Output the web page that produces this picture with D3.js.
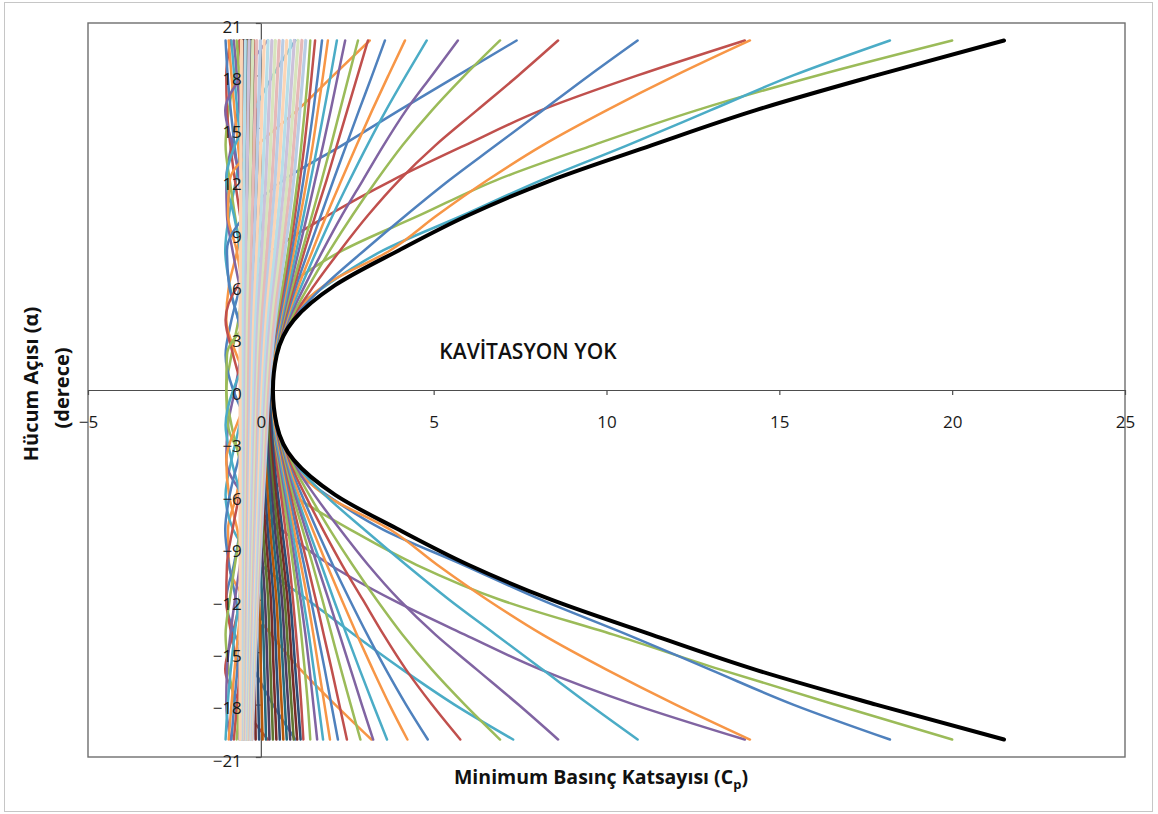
<!DOCTYPE html>
<html><head><meta charset="utf-8">
<script src="https://cdn.jsdelivr.net/npm/d3@7"></script>
<style>body{margin:0;background:#fff}svg{display:block}</style>
</head><body>
<svg id="chart" width="1158" height="814"></svg>
<script>
// ---------- data ----------
const alpha = [-20,-18,-16,-14,-12,-10,-8,-6,-4,-2,0,2,4,6,8,10,12,14,16,18,20];
const alphaCoarse = [-20,-16,-12,-8,-4,0,4,8,12,16,20];
const xTicks = [-5,0,5,10,15,20,25];
const yTicks = [-21,-18,-15,-12,-9,-6,-3,0,3,6,9,12,15,18,21];

const envelope = [21.5,17.8,14.3,11.3,8.4,6.0,4.0,2.15,0.95,0.46,0.35,0.46,0.95,2.15,4.0,6.0,8.4,11.3,14.3,17.8,21.5];

// upper family (suction grows with +alpha)
const uPurple02 = [-0.38,-0.39,-0.4,-0.4,-0.41,-0.42,-0.43,-0.43,-0.44,-0.44,-0.45,-0.45,-0.45,-0.46,-0.48,-0.52,-0.6,-0.82,-1.03,-0.55,0.2];
const uTeal10   = [-0.38,-0.39,-0.39,-0.4,-0.41,-0.42,-0.42,-0.43,-0.44,-0.45,-0.45,-0.46,-0.48,-0.52,-0.6,-0.78,-1.0,-0.75,-0.2,0.35,1.0];
const uOrange31 = [-0.38,-0.38,-0.39,-0.4,-0.4,-0.41,-0.42,-0.43,-0.44,-0.45,-0.45,-0.46,-0.48,-0.55,-0.7,-0.95,-0.9,-0.1,1.05,2.1,3.15];
const uBlue727  = [-0.38,-0.38,-0.39,-0.39,-0.4,-0.41,-0.42,-0.43,-0.44,-0.45,-0.46,-0.5,-0.65,-0.92,-0.98,-0.45,0.65,2.35,4.0,5.7,7.4];
const uRed138   = [-0.37,-0.38,-0.38,-0.39,-0.4,-0.41,-0.42,-0.43,-0.45,-0.48,-0.55,-0.8,-1.02,-0.65,0.35,1.95,3.8,5.9,8.1,10.9,14.0];
const uGreen20  = [-0.37,-0.38,-0.38,-0.39,-0.4,-0.42,-0.45,-0.5,-0.62,-0.85,-1.0,-0.98,-0.3,0.8,2.38,4.6,6.8,9.6,12.6,16.1,20.0];
const uTeal182  = [-0.38,-0.39,-0.4,-0.41,-0.42,-0.44,-0.48,-0.6,-0.85,-1.02,-0.8,-0.3,0.6,1.9,3.55,5.85,8.1,10.6,13.0,15.4,18.2];
const uOrange1415 = [-0.4,-0.41,-0.42,-0.43,-0.46,-0.53,-0.68,-0.92,-1.0,-0.7,-0.25,0.25,0.8,1.85,3.75,5.1,6.55,8.15,10.0,12.0,14.15];
const uBlue109  = [-0.44,-0.46,-0.5,-0.58,-0.72,-0.92,-1.03,-0.9,-0.65,-0.35,-0.05,0.35,0.9,1.85,3.0,4.2,5.45,6.8,8.15,9.5,10.9];
const uRed86    = [-0.48,-0.55,-0.66,-0.85,-1.0,-0.98,-0.82,-0.62,-0.4,-0.15,0.1,0.42,0.88,1.55,2.3,3.1,4.0,5.05,6.25,7.45,8.6];
const uGreen692 = [-0.6,-0.75,-0.93,-1.02,-0.9,-0.75,-0.58,-0.4,-0.2,0.0,0.2,0.45,0.85,1.4,2.0,2.65,3.35,4.1,4.95,5.9,6.92];
const uPurple57 = [-0.88,-1.0,-0.98,-0.88,-0.75,-0.6,-0.45,-0.28,-0.1,0.08,0.25,0.45,0.8,1.28,1.8,2.35,2.95,3.55,4.2,4.95,5.7];
const uTeal48   = [-1.02,-0.96,-0.87,-0.76,-0.63,-0.5,-0.35,-0.2,-0.04,0.12,0.28,0.45,0.76,1.18,1.62,2.08,2.57,3.08,3.62,4.2,4.8];
const uOrange417= [-0.93,-0.85,-0.76,-0.66,-0.55,-0.43,-0.3,-0.15,0.0,0.15,0.3,0.45,0.74,1.1,1.5,1.9,2.33,2.77,3.22,3.69,4.17];
const uBlue359  = [-0.85,-0.77,-0.68,-0.58,-0.47,-0.35,-0.23,-0.1,0.03,0.17,0.3,0.44,0.71,1.03,1.38,1.74,2.1,2.47,2.84,3.22,3.59];
const uRed31    = [-0.78,-0.69,-0.6,-0.5,-0.4,-0.29,-0.18,-0.06,0.06,0.18,0.3,0.43,0.68,0.97,1.27,1.58,1.9,2.2,2.5,2.8,3.1];
const uGreen281 = [-0.7,-0.62,-0.53,-0.44,-0.34,-0.24,-0.14,-0.04,0.07,0.18,0.29,0.42,0.65,0.92,1.2,1.48,1.76,2.03,2.29,2.55,2.81];
const uPurple244= [-0.62,-0.54,-0.46,-0.38,-0.29,-0.2,-0.11,-0.02,0.08,0.18,0.28,0.4,0.62,0.86,1.1,1.34,1.57,1.8,2.02,2.23,2.44];
const uTeal22   = [-0.54,-0.47,-0.4,-0.32,-0.24,-0.16,-0.08,0.0,0.09,0.18,0.27,0.38,0.59,0.81,1.03,1.24,1.44,1.64,1.83,2.02,2.2];
const uOrange194= [-0.48,-0.41,-0.34,-0.27,-0.2,-0.13,-0.06,0.01,0.09,0.17,0.25,0.36,0.56,0.76,0.96,1.15,1.33,1.5,1.65,1.8,1.94];
const uBlue177  = [-0.41,-0.35,-0.29,-0.23,-0.17,-0.11,-0.05,0.01,0.08,0.15,0.22,0.33,0.53,0.72,0.9,1.07,1.23,1.38,1.52,1.65,1.77];
const uRed157   = [-0.34,-0.29,-0.24,-0.19,-0.14,-0.09,-0.04,0.02,0.08,0.14,0.2,0.3,0.49,0.67,0.84,0.99,1.13,1.26,1.37,1.47,1.57];
const uGreen143 = [-0.26,-0.22,-0.18,-0.14,-0.1,-0.06,-0.02,0.03,0.08,0.13,0.18,0.28,0.46,0.63,0.79,0.93,1.06,1.17,1.27,1.36,1.43];

// lower family (suction grows with -alpha)
const lRed017   = [0.2,-0.55,-1.03,-0.82,-0.6,-0.52,-0.48,-0.46,-0.45,-0.45,-0.45,-0.44,-0.44,-0.43,-0.43,-0.42,-0.41,-0.4,-0.4,-0.39,-0.38];
const lBlue093  = [1.0,0.35,-0.2,-0.75,-1.0,-0.78,-0.6,-0.52,-0.48,-0.46,-0.45,-0.45,-0.44,-0.43,-0.42,-0.42,-0.41,-0.4,-0.39,-0.39,-0.38];
const lOrange31 = [3.2,2.15,1.15,0.3,-0.45,-0.92,-0.95,-0.7,-0.55,-0.48,-0.46,-0.45,-0.44,-0.43,-0.42,-0.41,-0.4,-0.4,-0.39,-0.38,-0.38];
const lTeal727  = [7.3,5.6,4.1,2.7,1.35,0.0,-0.8,-1.02,-0.85,-0.62,-0.5,-0.46,-0.45,-0.44,-0.43,-0.42,-0.41,-0.4,-0.39,-0.38,-0.38];
const lPurple138= [14.0,10.8,8.1,5.9,3.8,2.0,0.6,-0.5,-1.0,-0.95,-0.75,-0.58,-0.5,-0.46,-0.44,-0.43,-0.42,-0.41,-0.4,-0.39,-0.38];
const lGreen20  = [20.0,16.6,13.3,10.2,6.92,4.5,2.6,0.9,-0.4,-0.95,-1.0,-0.85,-0.65,-0.52,-0.47,-0.45,-0.43,-0.42,-0.4,-0.39,-0.38];
const lBlue182  = [18.2,15.4,13.0,10.6,8.1,5.85,3.55,1.9,0.6,-0.3,-0.8,-1.02,-0.85,-0.6,-0.48,-0.44,-0.42,-0.41,-0.4,-0.39,-0.38];
const lOrange1415 = [14.15,12.0,10.0,8.15,6.55,5.1,3.75,1.85,0.8,0.25,-0.25,-0.7,-1.0,-0.92,-0.68,-0.53,-0.46,-0.43,-0.42,-0.41,-0.4];
const lTeal109  = [10.9,9.5,8.15,6.8,5.45,4.2,3.0,1.85,0.9,0.35,-0.05,-0.35,-0.65,-0.9,-1.03,-0.92,-0.72,-0.58,-0.5,-0.46,-0.44];
const lPurple86 = [8.6,7.45,6.25,5.05,4.0,3.1,2.3,1.55,0.88,0.42,0.1,-0.15,-0.4,-0.62,-0.82,-0.98,-1.0,-0.85,-0.66,-0.55,-0.48];
const lGreen692 = [6.92,5.9,4.95,4.1,3.35,2.65,2.0,1.4,0.85,0.45,0.2,0.0,-0.2,-0.4,-0.58,-0.75,-0.9,-1.02,-0.93,-0.75,-0.6];
const lRed577   = [5.77,4.95,4.2,3.55,2.95,2.35,1.8,1.28,0.8,0.45,0.25,0.08,-0.1,-0.28,-0.45,-0.6,-0.75,-0.88,-0.98,-1.0,-0.88];
const lBlue48   = [4.83,4.2,3.62,3.08,2.57,2.08,1.62,1.18,0.76,0.45,0.28,0.12,-0.04,-0.2,-0.35,-0.5,-0.63,-0.76,-0.87,-0.96,-1.02];
const lOrange424= [4.24,3.72,3.24,2.78,2.34,1.91,1.5,1.1,0.74,0.45,0.3,0.15,0.0,-0.15,-0.3,-0.43,-0.55,-0.66,-0.76,-0.85,-0.93];
const lTeal365  = [3.65,3.25,2.86,2.48,2.11,1.75,1.38,1.03,0.71,0.44,0.3,0.17,0.03,-0.1,-0.23,-0.35,-0.47,-0.58,-0.68,-0.77,-0.85];
const lPurple32 = [3.25,2.92,2.6,2.28,1.96,1.63,1.3,0.98,0.68,0.43,0.3,0.18,0.06,-0.06,-0.18,-0.29,-0.4,-0.5,-0.6,-0.69,-0.78];
const lGreen288 = [2.88,2.6,2.32,2.05,1.78,1.5,1.21,0.92,0.65,0.42,0.29,0.18,0.07,-0.04,-0.14,-0.24,-0.34,-0.44,-0.53,-0.62,-0.7];
const lRed249   = [2.49,2.27,2.05,1.82,1.59,1.35,1.1,0.86,0.62,0.4,0.28,0.18,0.08,-0.02,-0.11,-0.2,-0.29,-0.38,-0.46,-0.54,-0.62];
const lBlue223  = [2.23,2.04,1.85,1.65,1.45,1.25,1.03,0.81,0.59,0.38,0.27,0.18,0.09,0.0,-0.08,-0.16,-0.24,-0.32,-0.4,-0.47,-0.54];
const lOrange20 = [2.0,1.84,1.68,1.52,1.35,1.16,0.96,0.76,0.56,0.36,0.25,0.17,0.09,0.01,-0.06,-0.13,-0.2,-0.27,-0.34,-0.41,-0.48];
const lTeal180  = [1.8,1.67,1.53,1.39,1.23,1.07,0.9,0.72,0.53,0.33,0.22,0.15,0.08,0.01,-0.05,-0.11,-0.17,-0.23,-0.29,-0.35,-0.41];
const lPurple163= [1.63,1.52,1.41,1.29,1.15,1.0,0.84,0.67,0.49,0.3,0.2,0.14,0.08,0.02,-0.04,-0.09,-0.14,-0.19,-0.24,-0.29,-0.34];
const lGreen143 = [1.43,1.36,1.27,1.17,1.06,0.93,0.79,0.63,0.46,0.28,0.18,0.13,0.08,0.03,-0.02,-0.06,-0.1,-0.14,-0.18,-0.22,-0.26];
const lRed123   = [1.23,1.17,1.1,1.02,0.93,0.83,0.71,0.58,0.43,0.26,0.17,0.12,0.07,0.03,-0.01,-0.05,-0.08,-0.11,-0.14,-0.17,-0.2];

// dense dark band (lower aft points), on alphaCoarse
const darkBand = [
 [1.15,1.0,0.85,0.62,0.38,0.24,0.13,0.02,-0.08,-0.17,-0.25],
 [1.05,0.91,0.77,0.55,0.33,0.19,0.09,-0.02,-0.11,-0.2,-0.27],
 [0.95,0.82,0.69,0.48,0.28,0.14,0.04,-0.05,-0.14,-0.22,-0.29],
 [0.85,0.73,0.61,0.41,0.23,0.09,0.0,-0.09,-0.17,-0.25,-0.31],
 [0.75,0.64,0.53,0.34,0.18,0.04,-0.04,-0.13,-0.2,-0.27,-0.33],
 [0.65,0.55,0.45,0.27,0.13,-0.01,-0.08,-0.16,-0.23,-0.3,-0.35],
 [0.55,0.46,0.37,0.2,0.07,-0.06,-0.13,-0.2,-0.26,-0.32,-0.37],
 [0.45,0.37,0.29,0.13,0.01,-0.11,-0.17,-0.24,-0.29,-0.35,-0.39],
 [0.35,0.28,0.21,0.06,-0.05,-0.16,-0.21,-0.27,-0.32,-0.37,-0.41],
 [0.25,0.19,0.12,-0.01,-0.11,-0.2,-0.26,-0.31,-0.36,-0.4,-0.44],
 [0.15,0.1,0.04,-0.08,-0.17,-0.25,-0.3,-0.35,-0.39,-0.42,-0.46],
 [0.05,0.0,-0.05,-0.15,-0.23,-0.3,-0.34,-0.38,-0.42,-0.45,-0.48],
 [-0.05,-0.09,-0.13,-0.22,-0.29,-0.35,-0.39,-0.42,-0.45,-0.47,-0.5],
 [-0.15,-0.18,-0.22,-0.29,-0.35,-0.4,-0.43,-0.45,-0.48,-0.5,-0.52]
];
// dense pastel band (upper aft points), on alphaCoarse
const pastelBand = [
 [-0.25,-0.17,-0.08,0.02,0.13,0.24,0.42,0.70,0.95,1.13,1.30],
 [-0.27,-0.20,-0.11,-0.02,0.09,0.19,0.36,0.62,0.86,1.03,1.19],
 [-0.29,-0.22,-0.14,-0.05,0.04,0.14,0.30,0.55,0.77,0.93,1.08],
 [-0.31,-0.25,-0.17,-0.09,0.00,0.09,0.24,0.47,0.68,0.83,0.97],
 [-0.33,-0.27,-0.20,-0.13,-0.04,0.04,0.18,0.40,0.59,0.73,0.86],
 [-0.35,-0.30,-0.23,-0.16,-0.08,-0.01,0.12,0.32,0.50,0.63,0.75],
 [-0.37,-0.32,-0.26,-0.20,-0.13,-0.06,0.06,0.24,0.41,0.53,0.64],
 [-0.39,-0.35,-0.29,-0.24,-0.17,-0.11,0.00,0.17,0.32,0.43,0.53],
 [-0.41,-0.37,-0.32,-0.27,-0.21,-0.16,-0.06,0.09,0.23,0.33,0.42],
 [-0.44,-0.40,-0.36,-0.31,-0.26,-0.20,-0.12,0.02,0.14,0.23,0.32],
 [-0.46,-0.42,-0.39,-0.35,-0.30,-0.25,-0.18,-0.06,0.05,0.13,0.21],
 [-0.48,-0.45,-0.42,-0.38,-0.34,-0.30,-0.24,-0.13,-0.04,0.03,0.10],
 [-0.50,-0.47,-0.45,-0.42,-0.39,-0.35,-0.30,-0.21,-0.13,-0.07,-0.01],
 [-0.52,-0.50,-0.48,-0.45,-0.43,-0.40,-0.36,-0.29,-0.22,-0.17,-0.12],
 [-0.54,-0.52,-0.51,-0.49,-0.47,-0.45,-0.42,-0.36,-0.31,-0.27,-0.23],
 [-0.56,-0.55,-0.54,-0.53,-0.51,-0.50,-0.48,-0.44,-0.40,-0.37,-0.34],
 [-0.58,-0.57,-0.57,-0.56,-0.56,-0.55,-0.54,-0.51,-0.49,-0.47,-0.45],
 [-0.60,-0.60,-0.60,-0.60,-0.60,-0.60,-0.60,-0.59,-0.58,-0.57,-0.56]
];

// ---------- styles ----------
const COL = {blue:"#4F81BD", red:"#C0504D", green:"#9BBB59", purple:"#8064A2", teal:"#4BACC6", orange:"#F79646"};
const darkCols = ["#2C4D75","#772C2A","#5F7530","#4D3B62","#276A7C","#B65708"];
const pastelCols = ["#B9CDE5","#E6B9B8","#D7E4BD","#CCC1DA","#B7DEE8","#FCD5B5"];

const lowerSeries = [
 [lRed017,"red"],[lBlue093,"blue"],[lOrange31,"orange"],[lTeal727,"teal"],[lPurple138,"purple"],[lGreen20,"green"],
 [lBlue182,"blue"],[lOrange1415,"orange"],[lTeal109,"teal"],[lPurple86,"purple"],[lGreen692,"green"],[lRed577,"red"],
 [lBlue48,"blue"],[lOrange424,"orange"],[lTeal365,"teal"],[lPurple32,"purple"],[lGreen288,"green"],[lRed249,"red"],
 [lBlue223,"blue"],[lOrange20,"orange"],[lTeal180,"teal"],[lPurple163,"purple"],[lGreen143,"green"],[lRed123,"red"]
];
const upperSeries = [
 [uPurple02,"purple"],[uTeal10,"teal"],[uOrange31,"orange"],[uBlue727,"blue"],[uRed138,"red"],[uGreen20,"green"],
 [uTeal182,"teal"],[uOrange1415,"orange"],[uBlue109,"blue"],[uRed86,"red"],[uGreen692,"green"],[uPurple57,"purple"],
 [uTeal48,"teal"],[uOrange417,"orange"],[uBlue359,"blue"],[uRed31,"red"],[uGreen281,"green"],[uPurple244,"purple"],
 [uTeal22,"teal"],[uOrange194,"orange"],[uBlue177,"blue"],[uRed157,"red"],[uGreen143,"green"]
];

// ---------- drawing ----------
const svg = d3.select("#chart");
const x = d3.scaleLinear().domain([-5,25]).range([88,1125]);
const y = d3.scaleLinear().domain([-21,21]).range([757,23]);
const FONT = "'Open Sans', 'Noto Sans', sans-serif";

svg.append("rect").attr("x",4.5).attr("y",2.5).attr("width",1148).attr("height",809)
  .attr("fill","#fff").attr("stroke","#c6c6c6").attr("stroke-width",1);
svg.append("rect").attr("x",88).attr("y",23).attr("width",1037).attr("height",734)
  .attr("fill","#fff").attr("stroke","#6e6e6e").attr("stroke-width",1.4);

// axis lines (under the series)
const gxLine = svg.append("g").attr("transform",`translate(0,${y(0)})`)
  .call(d3.axisBottom(x).tickValues(xTicks).tickSize(5).tickSizeOuter(0).tickFormat(""));
const gyLine = svg.append("g").attr("transform",`translate(${x(0)},0)`)
  .call(d3.axisLeft(y).tickValues(yTicks).tickSize(5).tickSizeOuter(0).tickFormat(""));
[gxLine,gyLine].forEach(g=>{g.selectAll("path,line").attr("stroke","#4d4d4d").attr("stroke-width",1.2);});

const line = d3.line().x(d=>x(d[0])).y(d=>y(d[1])).curve(d3.curveMonotoneY);
function drawSeries(vals, grid, color, width){
  const pts = grid.map((a,i)=>[vals[i],a]).reverse();
  svg.append("path").attr("d",line(pts)).attr("fill","none")
    .attr("stroke",color).attr("stroke-width",width)
    .attr("stroke-linecap","round").attr("stroke-linejoin","round");
}
lowerSeries.forEach(([v,c])=>drawSeries(v,alpha,COL[c],2.5));
upperSeries.forEach(([v,c])=>drawSeries(v,alpha,COL[c],2.5));
darkBand.forEach((v,i)=>drawSeries(v,alphaCoarse,darkCols[i%darkCols.length],2.6));
pastelBand.forEach((v,i)=>drawSeries(v,alphaCoarse,pastelCols[i%pastelCols.length],3.2));
drawSeries(envelope,alpha,"#000",4);

// tick labels on top
const gxLab = svg.append("g").attr("transform",`translate(0,${y(0)})`)
  .call(d3.axisBottom(x).tickValues(xTicks).tickSize(0).tickPadding(26).tickFormat(d3.format("d")));
const gyLab = svg.append("g").attr("transform",`translate(${x(0)},0)`)
  .call(d3.axisLeft(y).tickValues(yTicks).tickSize(0).tickPadding(19).tickFormat(d3.format("d")));
[gxLab,gyLab].forEach(g=>{
  g.select(".domain").remove();
  g.selectAll("text").attr("font-family",FONT).attr("font-size",17).attr("fill","#1a1a1a");
});
gyLab.selectAll("text").attr("dy","0.55em");

// texts
svg.append("text").attr("x",528).attr("y",359).attr("text-anchor","middle")
  .attr("font-family",FONT).attr("font-size",21).attr("font-weight",600).attr("fill","#111")
  .text("KAVİTASYON YOK");

const xt = svg.append("text").attr("x",601).attr("y",784).attr("text-anchor","middle")
  .attr("font-family",FONT).attr("font-size",19.5).attr("font-weight",700).attr("fill","#111");
xt.append("tspan").text("Minimum Basınç Katsayısı (C");
xt.append("tspan").attr("font-size",13).attr("dy",5).text("p");
xt.append("tspan").attr("dy",-5).text(")");

svg.append("text").attr("transform","translate(38,384) rotate(-90)").attr("text-anchor","middle")
  .attr("font-family",FONT).attr("font-size",20).attr("font-weight",700).attr("fill","#111")
  .text("Hücum Açısı (α)");
svg.append("text").attr("transform","translate(69,388) rotate(-90)").attr("text-anchor","middle")
  .attr("font-family",FONT).attr("font-size",20).attr("font-weight",700).attr("fill","#111")
  .text("(derece)");
</script>
</body></html>
